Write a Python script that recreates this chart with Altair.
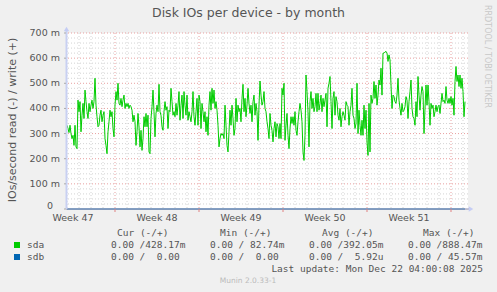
import altair as alt
import pandas as pd

# ---- data (one sample per 2 hours, values in milli-IOs/s) ----
sda_part1 = [333, 320, 304, 333, 300, 280, 293, 253, 333, 247, 240, 433, 387, 427, 307, 373, 420, 360, 473, 427,
             387, 360, 420, 387, 413, 433, 400, 427, 520, 413, 367, 327, 333, 373, 393, 347, 373, 387, 280, 253,
             220, 307, 347, 393, 367, 387, 320, 287, 413, 467, 433, 500, 420, 413, 440, 407, 433, 453, 400, 420,
             407, 420, 400, 413, 407, 393, 347]
sda_part2 = [373, 347, 253, 307, 380, 327, 247, 313, 233, 280, 367, 327, 380, 327, 373, 227, 220, 360, 407, 473,
             387, 287, 380, 413, 387, 496, 387, 373, 327, 313, 387, 427, 393, 407, 320, 393, 387, 480, 427, 373,
             387, 367, 420, 373, 413, 467, 353, 413, 453, 360, 467, 413, 373, 453, 353, 387, 367, 347, 387, 467,
             367, 333, 387, 440, 333, 453, 427, 320]
sda_part3 = [420, 387, 347, 387, 307, 367, 293, 413, 467, 393, 480, 420, 473, 400, 427, 393, 333, 247, 280, 300,
             293, 300, 280, 413, 333, 253, 227, 307, 393, 333, 413, 360, 293, 320, 440, 347, 413, 387, 400, 347,
             440, 496, 387, 440, 367, 413, 480, 420, 380, 413, 347, 427, 453, 373, 420, 387, 273, 413, 509, 453,
             413, 427, 467, 400, 387, 347, 320, 280]
sda_part4 = [380, 333, 313, 267, 320, 347, 287, 340, 327, 280, 340, 280, 480, 453, 500, 273, 333, 380, 293, 240,
             320, 367, 340, 367, 333, 387, 313, 293, 347, 387, 420, 393, 347, 227, 193, 293, 533, 467, 387, 247,
             427, 467, 400, 440, 387, 407, 460, 387, 460, 393, 420, 453, 387, 440, 407, 433, 460, 327, 480, 500,
             527, 427, 320, 440, 467, 373, 447, 427]
sda_part5 = [373, 353, 400, 327, 367, 387, 373, 353, 427, 413, 407, 333, 387, 413, 480, 373, 360, 320, 340, 500,
             300, 393, 333, 293, 353, 293, 413, 320, 393, 267, 213, 420, 227, 453, 420, 440, 507, 440, 493, 413,
             453, 513, 493, 560, 453, 620, 620, 624, 627, 620, 587, 613, 593, 493, 400, 453, 447, 427, 420, 453,
             520, 433, 400, 373, 420, 387, 393, 407]
sda_part6 = [447, 433, 360, 427, 467, 513, 400, 367, 360, 333, 427, 367, 527, 453, 393, 453, 487, 467, 300, 400,
             493, 413, 493, 427, 333, 420, 400, 413, 367, 387, 413, 387, 407, 413, 380, 420, 460, 427, 433, 420,
             487, 433, 420, 440, 420, 447, 413, 440, 373, 507, 567, 507, 533, 487, 533, 480, 520, 467, 367, 427]

week_labels = ["Week 47", "Week 48", "Week 49", "Week 50", "Week 51"]
y_ticks = [0, 100, 200, 300, 400, 500, 600, 700]
y_tick_labels = ["0", "100 m", "200 m", "300 m", "400 m", "500 m", "600 m", "700 m"]

series_names = ["sda", "sdb"]
series_colors = ["#00cc00", "#0066b3"]
cur_vals = ["0.00 /428.17m", "0.00 /  0.00"]
min_vals = ["0.00 / 82.74m", "0.00 /  0.00"]
avg_vals = ["0.00 /392.05m", "0.00 /  5.92u"]
max_vals = ["0.00 /888.47m", "0.00 / 45.57m"]
title_text = "Disk IOs per device - by month"
y_title = "IOs/second read (-) / write (+)"
last_update = "Last update: Mon Dec 22 04:00:08 2025"
munin_version = "Munin 2.0.33-1"
watermark = "RRDTOOL / TOBI OETIKER"

# ---- build table ----
sda = sda_part1 + sda_part2 + sda_part3 + sda_part4 + sda_part5 + sda_part6
STEP_H = 2          # hours between samples
START_H = 2         # first sample, hours after the left edge
hours = [START_H + STEP_H * i for i in range(len(sda))]
df = pd.DataFrame({"hour": hours, "sda": sda, "sdb": [0] * len(sda)})

WEEK_H = 168
FIRST_WEEK_START = 98   # hours after left edge where week 48 starts
week_starts = [FIRST_WEEK_START + WEEK_H * k for k in range(5)]
week_centers = [s - WEEK_H / 2 for s in week_starts]
day_lines = [h for h in range(2, 804, 24) if h not in week_starts]
minor_y = [v for v in range(20, 700, 20) if v % 100 != 0]

W, H = 402, 176
xs = alt.Scale(domain=[0, 804], nice=False, zero=False)
ys = alt.Scale(domain=[0, 700], nice=False)

FONT = "DejaVu Sans"
MONO = "DejaVu Sans Mono"
TXT = "#555555"

minor_v = alt.Chart(pd.DataFrame({"h": day_lines})).mark_rule(
    color="#d4d4d4", strokeDash=[1, 2], strokeWidth=1
).encode(x=alt.X("h:Q", scale=xs, axis=None))
minor_h = alt.Chart(pd.DataFrame({"v": minor_y})).mark_rule(
    color="#d4d4d4", strokeDash=[1, 2], strokeWidth=1
).encode(y=alt.Y("v:Q", scale=ys, axis=None))
major_v = alt.Chart(pd.DataFrame({"h": week_starts})).mark_rule(
    color="#e8a0a0", strokeDash=[1, 2], strokeWidth=1
).encode(x=alt.X("h:Q", scale=xs, axis=None))
major_h = alt.Chart(pd.DataFrame({"v": y_ticks[1:]})).mark_rule(
    color="#e8a0a0", strokeDash=[1, 2], strokeWidth=1
).encode(y=alt.Y("v:Q", scale=ys, axis=None))
week_ticks = alt.Chart(pd.DataFrame({"h": week_starts})).mark_rule(
    color="#e08080", strokeWidth=1
).encode(x=alt.X("h:Q", scale=xs, axis=None), y=alt.value(H), y2=alt.value(H + 3))

y_tick_df = pd.DataFrame({"v": y_ticks, "lab": y_tick_labels})
y_tick_marks = alt.Chart(y_tick_df).mark_rule(color="#aaaaaa", strokeWidth=1).encode(
    y=alt.Y("v:Q", scale=ys, axis=None), x=alt.value(-2), x2=alt.value(0))
y_labels = alt.Chart(y_tick_df.iloc[1:]).mark_text(
    font=FONT, fontSize=9.5, color=TXT, align="right", baseline="middle"
).encode(y=alt.Y("v:Q", scale=ys, axis=None), x=alt.value(-6), text="lab:N")
y_label_zero = alt.Chart(y_tick_df.iloc[:1]).mark_text(
    font=FONT, fontSize=9.5, color=TXT, align="right", baseline="middle", dy=-3
).encode(y=alt.Y("v:Q", scale=ys, axis=None), x=alt.value(-13), text="lab:N")
x_labels = alt.Chart(pd.DataFrame({"h": week_centers, "lab": week_labels})).mark_text(
    font=FONT, fontSize=9.5, color=TXT, align="center", baseline="middle"
).encode(x=alt.X("h:Q", scale=xs, axis=None), y=alt.value(H + 9), text="lab:N")

sdb_line = alt.Chart(df).mark_line(color=series_colors[1], strokeWidth=1).encode(
    x=alt.X("hour:Q", scale=xs, axis=None),
    y=alt.Y("sdb:Q", scale=ys, axis=None),
)
sda_line = alt.Chart(df).mark_line(color=series_colors[0], strokeWidth=1).encode(
    x=alt.X("hour:Q", scale=xs, axis=None),
    y=alt.Y("sda:Q", scale=ys, axis=None),
)

one = pd.DataFrame({"a": [0]})

x_axis_line = alt.Chart(one).mark_rule(color="#8a8aaa", strokeWidth=1).encode(
    x=alt.value(0), x2=alt.value(W + 2), y=alt.value(H), )
x_arrow = alt.Chart(one).mark_point(shape="triangle-right", filled=True, color="#c4ccf4", size=28, opacity=1).encode(
    x=alt.value(W + 3), y=alt.value(H))
y_axis_line = alt.Chart(one).mark_rule(color="#c8d0f2", strokeWidth=2).encode(
    x=alt.value(0.5), y=alt.value(H), y2=alt.value(-3))
y_arrow = alt.Chart(one).mark_point(shape="triangle-up", filled=True, color="#c4ccf4", size=28, opacity=1).encode(
    x=alt.value(0.5), y=alt.value(-4))


def text(s, x, y, font=FONT, size=9.5, color=TXT, align="left", angle=0, baseline="middle"):
    return alt.Chart(one).mark_text(
        text=s, font=font, fontSize=size, color=color, align=align, angle=angle, baseline=baseline
    ).encode(x=alt.value(x), y=alt.value(y))


def mono(s):
    return s.replace(" ", "\u00a0")


texts = [
    text(title_text, 182.5, -20, size=12.5, align="center"),
    text(y_title, -53, 87, size=11, align="center", angle=270),
    text(watermark, 421, -28, size=8, color="#c8c8c8", angle=90),
    text(mono(last_update), 417, 236, font=MONO, align="right"),
    text(munin_version, 182, 248, size=7.5, color="#bbbbbb", align="center"),
]
for hx, lab in zip([51, 154, 256, 357], ["Cur (-/+)", "Min (-/+)", "Avg (-/+)", "Max (-/+)"]):
    texts.append(text(mono(lab), hx, 200, font=MONO))

row_y = [212, 224]
for i, name in enumerate(series_names):
    texts.append(text(name, -39, row_y[i], font=MONO))
    for vx, vals in zip([45, 144, 243, 342], [cur_vals, min_vals, avg_vals, max_vals]):
        texts.append(text(mono(vals[i]), vx, row_y[i], font=MONO))

swatches = []
for i, c in enumerate(series_colors):
    swatches.append(alt.Chart(one).mark_rect(color=c).encode(
        x=alt.value(-52), x2=alt.value(-46), y=alt.value(row_y[i] - 3), y2=alt.value(row_y[i] + 3)))

chart = alt.layer(
    minor_v, minor_h, major_v, major_h, sdb_line, sda_line,
    x_axis_line, week_ticks, y_axis_line, x_arrow, y_arrow,
    y_tick_marks, y_labels, y_label_zero, x_labels,
    *swatches, *texts,
).properties(
    width=W, height=H, background="#f0f0f0",
    padding={"left": 66, "top": 33, "right": 29, "bottom": 83},
    autosize=alt.AutoSizeParams(type="none"),
).configure_view(fill="white", stroke=None)

chart.save("out.html", embed_options={"renderer": "svg", "actions": False})
